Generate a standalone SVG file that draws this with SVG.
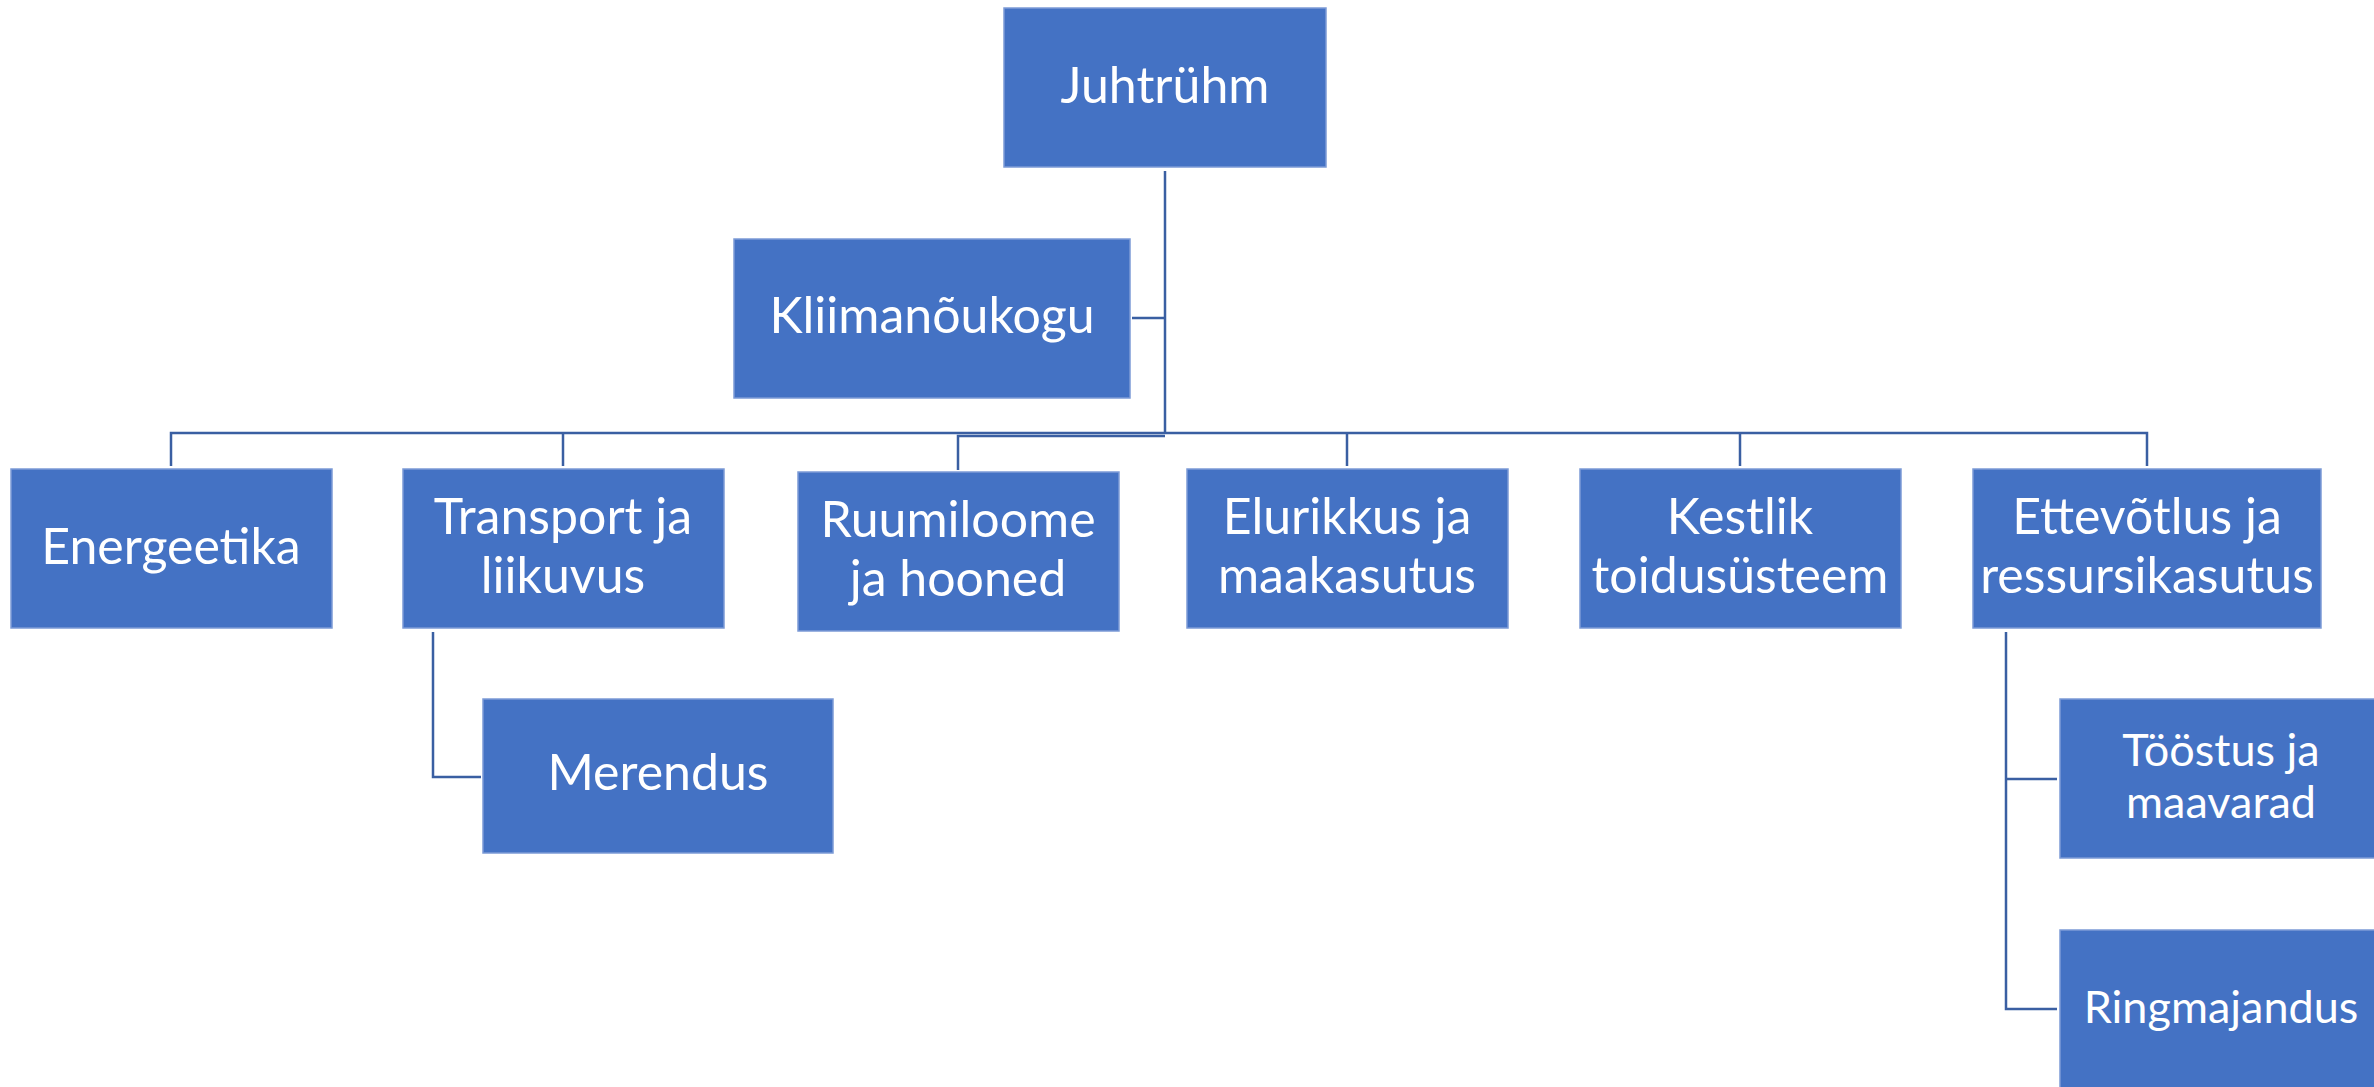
<svg xmlns="http://www.w3.org/2000/svg" width="2374" height="1087" viewBox="0 0 2374 1087">
<style>
.box{fill:#4472C4;stroke:#7C9BD6;stroke-width:1.5}
.t{fill:#FFFFFF;font-family:Lato,"Liberation Sans",sans-serif;font-size:50px;text-anchor:middle}
.s{font-size:45px}
.c{fill:none;stroke:#3A5FA2;stroke-width:2.5}
</style>
<rect width="2374" height="1087" fill="#FFFFFF"/>
<g id="connectors">
<path class="c" d="M1165,171 V433"/>
<path class="c" d="M1132,318 H1165"/>
<path class="c" d="M171,466 V433 H2147 V466"/>
<path class="c" d="M563,433 V466"/>
<path class="c" d="M1165,436 H958 V470"/>
<path class="c" d="M1347,433 V466"/>
<path class="c" d="M1740,433 V466"/>
<path class="c" d="M433,632 V777 H481"/>
<path class="c" d="M2006,632 V1009 H2057"/>
<path class="c" d="M2006,779 H2057"/>
</g>
<g id="juhtruhm"><rect class="box" x="1004" y="8" width="322" height="159"/><text class="t" x="1165" y="103">Juhtrühm</text></g>
<g id="kliimanoukogu"><rect class="box" x="734" y="239" width="396" height="159"/><text class="t" x="932" y="333">Kliimanõukogu</text></g>
<g id="energeetika"><rect class="box" x="11" y="469" width="321" height="159"/><text class="t" x="171" y="564">Energeetika</text></g>
<g id="transport"><rect class="box" x="403" y="469" width="321" height="159"/><text class="t" x="563" y="534">Transport ja</text><text class="t" x="563" y="593">liikuvus</text></g>
<g id="ruumiloome"><rect class="box" x="798" y="472" width="321" height="159"/><text class="t" x="958" y="537">Ruumiloome</text><text class="t" x="958" y="596">ja hooned</text></g>
<g id="elurikkus"><rect class="box" x="1187" y="469" width="321" height="159"/><text class="t" x="1347" y="534">Elurikkus ja</text><text class="t" x="1347" y="593">maakasutus</text></g>
<g id="kestlik"><rect class="box" x="1580" y="469" width="321" height="159"/><text class="t" x="1740" y="534">Kestlik</text><text class="t" x="1740" y="593">toidusüsteem</text></g>
<g id="ettevotlus"><rect class="box" x="1973" y="469" width="348" height="159"/><text class="t" x="2147" y="534">Ettevõtlus ja</text><text class="t" x="2147" y="593">ressursikasutus</text></g>
<g id="merendus"><rect class="box" x="483" y="699" width="350" height="154"/><text class="t" x="658" y="790">Merendus</text></g>
<g id="toostus"><rect class="box" x="2060" y="699" width="321" height="159"/><text class="t s" x="2221" y="766">Tööstus ja</text><text class="t s" x="2221" y="818">maavarad</text></g>
<g id="ringmajandus"><rect class="box" x="2060" y="930" width="321" height="159"/><text class="t s" x="2221" y="1023">Ringmajandus</text></g>
</svg>
